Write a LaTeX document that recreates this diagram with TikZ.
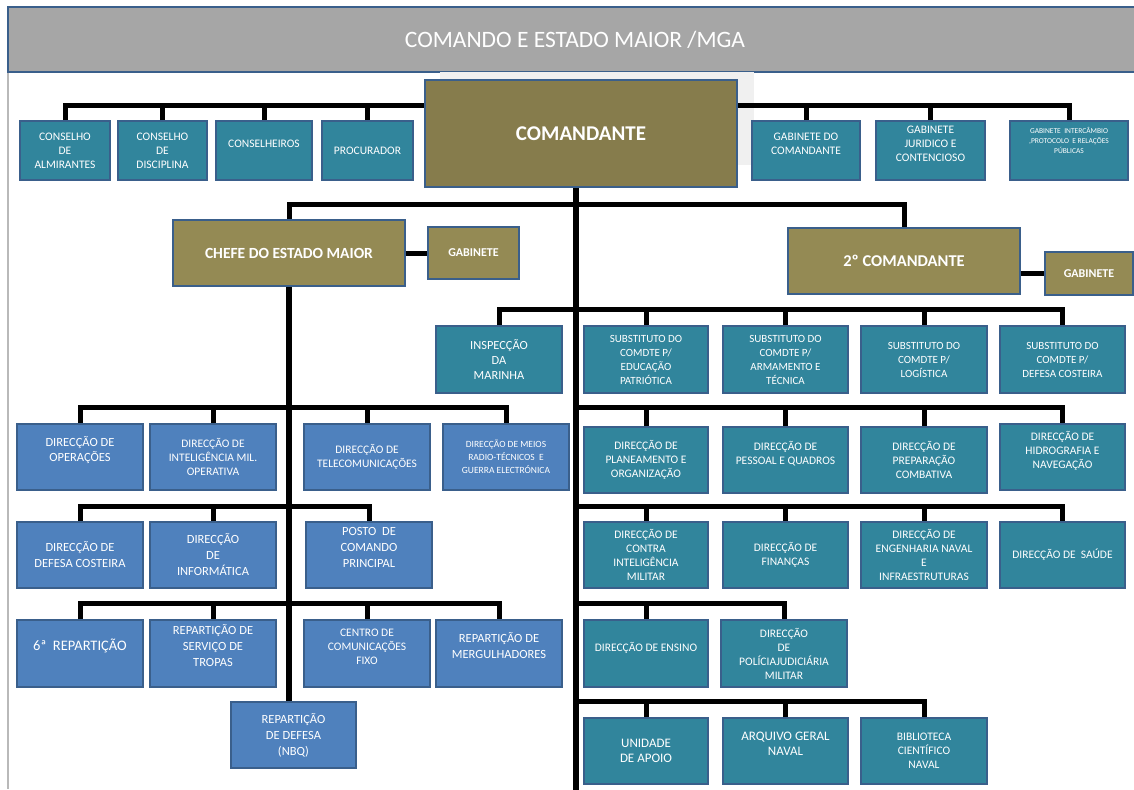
\documentclass[tikz,border=0pt]{standalone}
\usepackage{fontspec}
\setmainfont{Carlito}
\definecolor{tealc}{HTML}{31859C}
\definecolor{bluec}{HTML}{4F81BD}
\definecolor{olivec}{HTML}{948A54}
\definecolor{oliveb}{HTML}{867C4C}
\definecolor{bordc}{HTML}{3A5F8B}
\definecolor{hdrc}{HTML}{A6A6A6}
\newcommand\padline{\\\mbox{}}
\newcommand\obox[7]{%
  \pgfmathsetmacro\obw{#4-#2}\pgfmathsetmacro\obh{#5-#3}%
  \pgfmathsetmacro\obx{(#2+#4)/2}\pgfmathsetmacro\oby{(#3+#5)/2}%
  \node[#6, minimum width=\obw pt, minimum height=\obh pt] (#1) at (\obx,\oby) {#7};}
\begin{document}
\begin{tikzpicture}[x=1pt,y=-1pt,
  fs/.style 2 args={font=\fontsize{#1}{#2}\selectfont},
  basebox/.style={draw=bordc, line width=1.8pt, text=white, align=center, inner sep=1pt, fs={11.5}{14}},
  tealbox/.style={basebox, fill=tealc},
  bluebox/.style={basebox, fill=bluec},
  olivebox/.style={basebox, fill=olivec, font=\bfseries},
  hdrbox/.style={draw=bordc, line width=1.8pt, fill=hdrc, text=white, inner sep=0pt},
  conn/.style={line width=5pt, black, line join=miter},
  trunk/.style={line width=5.5pt, black, line join=miter}]
\useasboundingbox[fill=white] (0,0) rectangle (1134,789);
\draw[gray!55, line width=1.5pt] (8,72) -- (8,789);
% header
\obox{hdr}{8}{7}{1142}{72}{hdrbox, fs={23.5}{26}}{COMANDO E ESTADO MAIOR /MGA}
% shadow of the commander box
\fill[gray!12] (440,72) rectangle (754,165);
% top level
\obox{cmd}{425}{80}{737}{187}{basebox, fill=oliveb, font=\fontsize{21}{24}\selectfont\bfseries}{COMANDANTE}
\obox{alm}{20}{121}{110}{180}{tealbox}{CONSELHO\\DE\\ALMIRANTES}
\obox{dis}{118}{121}{207}{180}{tealbox}{CONSELHO\\DE\\DISCIPLINA}
\obox{csl}{216}{121}{312}{180}{tealbox}{CONSELHEIROS\padline}
\obox{pro}{322}{121}{413}{180}{tealbox}{PROCURADOR}
\obox{gcm}{752}{121}{860}{180}{tealbox}{GABINETE DO\\COMANDANTE\padline}
\obox{gjc}{876}{121}{985}{180}{tealbox}{GABINETE\\JURIDICO E\\CONTENCIOSO\padline}
\obox{gip}{1010}{121}{1128}{180}{tealbox, fs={7.5}{10}}{GABINETE \ INTERCÂMBIO\\,PROTOCOLO \ E RELAÇÕES\\PÚBLICAS\padline\padline}
% second level
\obox{chefe}{173}{220}{405}{286}{olivebox, font=\fontsize{15.5}{18}\selectfont\bfseries}{CHEFE DO ESTADO MAIOR}
\obox{gab1}{428}{227}{519}{279}{olivebox, font=\fontsize{12}{14}\selectfont\bfseries}{GABINETE}
\obox{seg}{788}{228}{1020}{294}{olivebox, font=\fontsize{16.5}{19}\selectfont\bfseries}{2º COMANDANTE}
\obox{gab2}{1045}{252}{1133}{295}{olivebox, font=\fontsize{12}{14}\selectfont\bfseries}{GABINETE}
% substitutes
\obox{insp}{436}{326}{562}{393}{tealbox, fs={12.4}{15}}{INSPECÇÃO\\DA\\MARINHA}
\obox{sub1}{584}{326}{708}{393}{tealbox, fs={11}{14}}{SUBSTITUTO DO\\COMDTE P/\\EDUCAÇÃO\\PATRIÓTICA}
\obox{sub2}{723}{326}{848}{393}{tealbox, fs={11}{14}}{SUBSTITUTO DO\\COMDTE P/\\ARMAMENTO E\\TÉCNICA}
\obox{sub3}{861}{326}{987}{393}{tealbox, fs={11}{14}}{SUBSTITUTO DO\\COMDTE P/\\LOGÍSTICA}
\obox{sub4}{1000}{326}{1125}{393}{tealbox, fs={11}{14}}{SUBSTITUTO DO\\COMDTE P/\\DEFESA COSTEIRA}
% left row 1
\obox{dop}{17}{424}{143}{490}{bluebox, fs={12.5}{15}}{DIRECÇÃO DE\\OPERAÇÕES\padline}
\obox{din}{150}{424}{276}{490}{bluebox}{DIRECÇÃO DE\\INTELIGÊNCIA MIL.\\OPERATIVA}
\obox{dtl}{304}{424}{430}{490}{bluebox}{DIRECÇÃO DE\\TELECOMUNICAÇÕES}
\obox{dmr}{443}{424}{569}{490}{bluebox, fs={9.5}{13}}{DIRECÇÃO DE MEIOS\\RADIO-TÉCNICOS \ E\\GUERRA ELECTRÓNICA}
% right row 1
\obox{dpl}{584}{427}{708}{493}{tealbox}{DIRECÇÃO DE\\PLANEAMENTO E\\ORGANIZAÇÃO}
\obox{dpq}{723}{427}{848}{493}{tealbox}{DIRECÇÃO DE\\PESSOAL E QUADROS\padline}
\obox{dpc}{861}{427}{987}{493}{tealbox}{DIRECÇÃO DE\\PREPARAÇÃO\\COMBATIVA}
\obox{dhn}{1000}{424}{1125}{490}{tealbox}{DIRECÇÃO DE\\HIDROGRAFIA E\\NAVEGAÇÃO\padline}
% left row 2
\obox{ddc}{17}{522}{143}{588}{bluebox, fs={12.5}{16}}{DIRECÇÃO DE\\DEFESA COSTEIRA}
\obox{dif}{150}{522}{276}{588}{bluebox, fs={12.5}{16}}{DIRECÇÃO\\DE\\INFORMÁTICA}
\obox{pcp}{306}{522}{432}{588}{bluebox, fs={12.5}{16}}{POSTO \ DE\\COMANDO\\PRINCIPAL\padline}
% right row 2
\obox{dci}{584}{522}{708}{588}{tealbox}{DIRECÇÃO DE\\CONTRA\\INTELIGÊNCIA\\MILITAR}
\obox{dfi}{723}{522}{848}{588}{tealbox}{DIRECÇÃO DE\\FINANÇAS}
\obox{dei}{861}{522}{987}{588}{tealbox}{DIRECÇÃO DE\\ENGENHARIA NAVAL\\E\\INFRAESTRUTURAS}
\obox{dsa}{1000}{522}{1125}{588}{tealbox}{DIRECÇÃO DE \ SAÚDE}
% left row 3
\obox{r6}{17}{620}{143}{687}{bluebox, fs={14.5}{17}}{6ª \ REPARTIÇÃO\padline}
\obox{rst}{150}{620}{276}{687}{bluebox, fs={12.5}{16}}{REPARTIÇÃO DE\\SERVIÇO DE\\TROPAS\padline}
\obox{ccf}{304}{620}{430}{687}{bluebox}{CENTRO DE\\COMUNICAÇÕES\\FIXO\padline}
\obox{rmg}{436}{620}{562}{687}{bluebox, fs={12.5}{16}}{REPARTIÇÃO DE\\MERGULHADORES\padline}
\obox{rdf}{231}{702}{356}{768}{bluebox, fs={12.5}{16}}{REPARTIÇÃO\\DE DEFESA\\(NBQ)}
% right row 3
\obox{den}{584}{620}{708}{687}{tealbox}{DIRECÇÃO DE ENSINO\padline}
\obox{dpj}{721}{620}{847}{687}{tealbox}{DIRECÇÃO\\DE\\POLÍCIAJUDICIÁRIA\\MILITAR}
% right row 4
\obox{uap}{584}{718}{708}{784}{tealbox, fs={13}{15}}{UNIDADE\\DE APOIO}
\obox{agn}{723}{718}{848}{784}{tealbox, fs={13}{15}}{ARQUIVO GERAL\\NAVAL\padline}
\obox{bcn}{861}{718}{987}{784}{tealbox}{BIBLIOTECA\\CIENTÍFICO\\NAVAL}
% bus levels
\coordinate (bT) at (0,106);
\coordinate (b2) at (0,204);
\coordinate (b3) at (0,309);
\coordinate (b4) at (0,407.5);
\coordinate (b5) at (0,506);
\coordinate (b6) at (0,603);
\coordinate (b7) at (0,701);
\coordinate (bot) at (0,795);
\coordinate (tk) at ([xshift=-5pt]cmd.south);
% connectors
\draw[conn] (alm.north) -- (alm.north |- bT) -- (cmd.west |- bT);
\foreach \n in {dis,csl,pro} \draw[conn] (\n.north) -- (\n.north |- bT);
\draw[conn] (cmd.east |- bT) -- (gip.north |- bT) -- (gip.north);
\foreach \n in {gcm,gjc} \draw[conn] (\n.north) -- (\n.north |- bT);
\draw[trunk] (tk) -- (tk |- bot);
\draw[conn] (chefe.north) -- (chefe.north |- b2) -- (seg.north |- b2) -- (seg.north);
\draw[conn] (chefe.east) -- (gab1.west);
\draw[conn] (seg.east |- gab2.west) -- (gab2.west);
\draw[trunk] (chefe.south) -- (chefe.south |- rdf.north);
\draw[conn] (insp.north) -- (insp.north |- b3) -- (sub4.north |- b3) -- (sub4.north);
\foreach \n in {sub1,sub2,sub3} \draw[conn] (\n.north) -- (\n.north |- b3);
\draw[conn] (dop.north) -- (dop.north |- b4) -- (dmr.north |- b4) -- (dmr.north);
\foreach \n in {din,dtl} \draw[conn] (\n.north) -- (\n.north |- b4);
\draw[conn] (tk |- b4) -- (dhn.north |- b4) -- (dhn.north);
\foreach \n in {dpl,dpq,dpc} \draw[conn] (\n.north) -- (\n.north |- b4);
\draw[conn] (ddc.north) -- (ddc.north |- b5) -- (pcp.north |- b5) -- (pcp.north);
\draw[conn] (dif.north) -- (dif.north |- b5);
\draw[conn] (tk |- b5) -- (dsa.north |- b5) -- (dsa.north);
\foreach \n in {dci,dfi,dei} \draw[conn] (\n.north) -- (\n.north |- b5);
\draw[conn] (r6.north) -- (r6.north |- b6) -- (rmg.north |- b6) -- (rmg.north);
\foreach \n in {rst,ccf} \draw[conn] (\n.north) -- (\n.north |- b6);
\draw[conn] (tk |- b6) -- (dpj.north |- b6) -- (dpj.north);
\draw[conn] (den.north) -- (den.north |- b6);
\draw[conn] (tk |- b7) -- (bcn.north |- b7) -- (bcn.north);
\foreach \n in {uap,agn} \draw[conn] (\n.north) -- (\n.north |- b7);
\end{tikzpicture}
\end{document}
